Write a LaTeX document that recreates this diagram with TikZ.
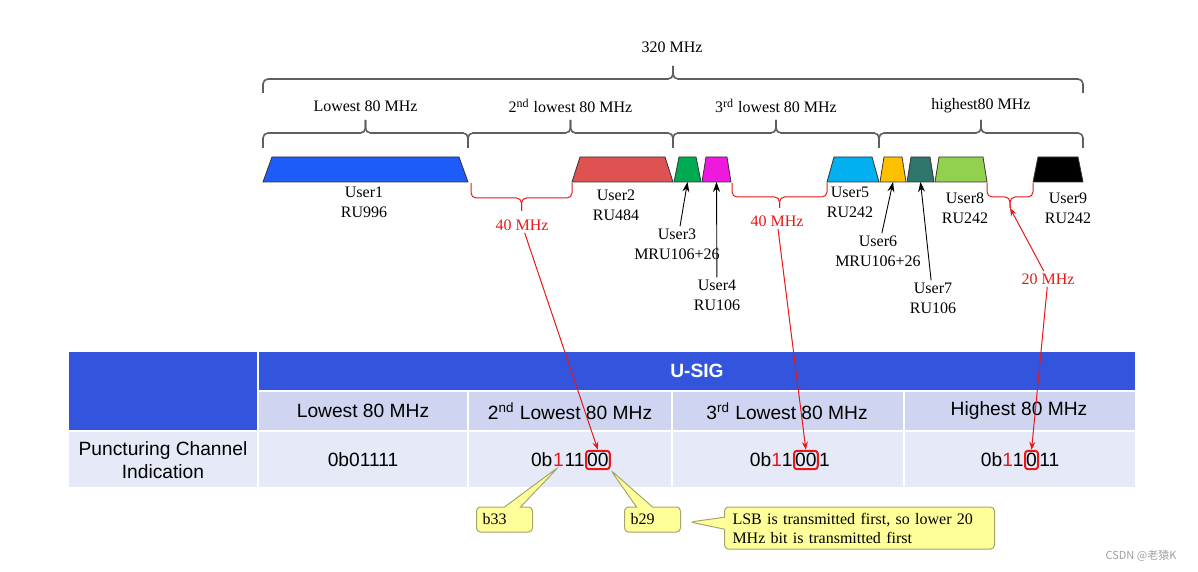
\documentclass[tikz,border=0pt]{standalone}
\usepackage{fontspec}
\setmainfont{Liberation Serif}
\newfontfamily\arialfont{Liberation Sans}
\newfontfamily\cjkfont{Noto Sans CJK SC}
\usetikzlibrary{arrows.meta,shapes.callouts}

\definecolor{bandblue}{RGB}{30,92,250}
\definecolor{bandred}{RGB}{222,82,82}
\definecolor{bandgreen}{RGB}{0,170,80}
\definecolor{bandmagenta}{RGB}{238,24,222}
\definecolor{bandcyan}{RGB}{0,176,240}
\definecolor{bandyellow}{RGB}{255,192,0}
\definecolor{bandteal}{RGB}{46,117,107}
\definecolor{bandlime}{RGB}{146,208,80}
\definecolor{braceGray}{RGB}{95,95,95}
\definecolor{markred}{RGB}{232,24,24}
\definecolor{headblue}{RGB}{51,85,221}
\definecolor{subrow}{RGB}{207,213,240}
\definecolor{datarow}{RGB}{230,233,247}
\definecolor{noteyellow}{RGB}{255,255,153}
\definecolor{noteedge}{RGB}{165,165,110}

% flat brace: left x, right x, y of the ends, y of the bar, y of the tip
\newcommand\bandbrace[6][]{%
  \draw[#1] (#2,#4) -- (#2,#5) -- ({(#2+#3)/2},#5) -- ({(#2+#3)/2},#6);
  \draw[#1] (#3,#4) -- (#3,#5) -- ({(#2+#3)/2},#5) -- ({(#2+#3)/2},#6);}

\begin{document}
\begin{tikzpicture}[x=0.5pt, y=-0.5pt, font=\fontsize{8}{10}\selectfont,
  band/.style={draw=black!80, line width=0.4pt},
  gbrace/.style={draw=braceGray, line width=0.8pt, rounded corners=2.5pt},
  rbrace/.style={draw=markred, line width=0.5pt, rounded corners=2.5pt},
  ulabel/.style={align=center, inner sep=1pt},
  uptr/.style={-{Stealth[length=5pt,width=3.5pt]}, line width=0.45pt},
  rptr/.style={-{Stealth[length=4pt,width=3pt]}, draw=markred, line width=0.5pt},
  rlabel/.style={text=markred, inner sep=1pt},
  tabtext/.style={font=\arialfont\fontsize{9.6}{11.5}\selectfont, align=center},
  digit/.style={tabtext, inner sep=0pt},
  digitbox/.style={digit, draw=markred, line width=1pt, rounded corners=1.5pt,
    inner xsep=0.6pt, inner ysep=1.2pt},
  note/.style={rectangle callout, fill=noteyellow, draw=noteedge, line width=0.5pt,
    rounded corners=2pt, align=left, inner xsep=3pt, inner ysep=2pt,
    callout pointer width=8pt}]
  \useasboundingbox (0,0) rectangle (1198,572);

  % Frequency braces over the 320 MHz channel
  \bandbrace[gbrace]{263}{1083}{93}{79}{66}
  \node (t320) at (672,47) {320 MHz};
  \foreach \l/\r/\txt/\n in {263/468/{Lowest 80 MHz}/s1,
      468/673/{2\textsuperscript{nd} lowest 80 MHz}/s2,
      673/879/{3\textsuperscript{rd} lowest 80 MHz}/s3,
      879/1083/{highest80 MHz}/s4} {
    \bandbrace[gbrace]{\l}{\r}{148}{133}{120}
    \node (\n) at ({(\l+\r)/2},106) {\txt};
  }

  % RU allocations (trapezoids), bottom-centre coordinates named b1..b9
  \foreach \l/\r/\i/\c/\n in {263/468/9/bandblue/b1, 572/673/8/bandred/b2,
      674/701/5/bandgreen/b3, 702/731/4/bandmagenta/b4, 827/879/7/bandcyan/b5,
      880/906/4/bandyellow/b6, 907/934/4/bandteal/b7, 935/987/4/bandlime/b8,
      1033/1083/5/black/b9} {
    \draw[band, fill=\c] (\l,182) -- (\l+\i,157) -- (\r-\i,157) -- (\r,182) -- cycle;
    \coordinate (\n) at ({(\l+\r)/2},182);
  }

  % User labels
  \node[ulabel] (u1) at (364,202) {User1\\RU996};
  \node[ulabel] (u2) at (616,205) {User2\\RU484};
  \node[ulabel] (u3) at (677,244) {User3\\MRU106+26};
  \node[ulabel] (u4) at (717,295) {User4\\RU106};
  \node[ulabel] (u5) at (850,202) {User5\\RU242};
  \node[ulabel] (u6) at (878,251) {User6\\MRU106+26};
  \node[ulabel] (u7) at (933,298) {User7\\RU106};
  \node[ulabel] (u8) at (965,208) {User8\\RU242};
  \node[ulabel] (u9) at (1068,208) {User9\\RU242};
  \draw[uptr] (u3) -- (b3);
  \draw[uptr] (u4) -- (b4);
  \draw[uptr] (u6) -- (b6);
  \draw[uptr] (u7) -- (b7);

  % Punctured gaps
  \bandbrace[rbrace]{471}{572}{183}{198}{211}
  \coordinate (g1) at (521.5,211);
  \bandbrace[rbrace]{732}{827}{183}{197}{208}
  \coordinate (g2) at (779.5,208);
  \bandbrace[rbrace]{987}{1033}{183}{197}{208}
  \coordinate (g3) at (1010,208);
  \node[rlabel] (w1) at (522,225) {40 MHz};
  \node[rlabel] (w2) at (777,221) {40 MHz};
  \node[rlabel] (w3) at (1048,279) {20 MHz};

  % U-SIG table
  \fill[headblue] (69,352) rectangle (257,430);
  \fill[headblue] (259,352) rectangle (1135,390);
  \fill[datarow] (69,432) rectangle (257,487);
  \foreach \l/\r in {259/467, 469/671, 673/903, 905/1135} {
    \fill[subrow] (\l,392) rectangle (\r,430);
    \fill[datarow] (\l,432) rectangle (\r,487);
  }
  \node[tabtext, text=white, font=\arialfont\bfseries\fontsize{9.6}{11.5}\selectfont]
    (usig) at (697,371) {U-SIG};
  \node[tabtext] (h1) at (363,411) {Lowest 80 MHz};
  \node[tabtext] (h2) at (570,411) {2\textsuperscript{nd} Lowest 80 MHz};
  \node[tabtext] (h3) at (787,411) {3\textsuperscript{rd} Lowest 80 MHz};
  \node[tabtext] (h4) at (1019,411) {Highest 80 MHz};
  \node[tabtext] (d0) at (163,460) {Puncturing Channel\\Indication};
  \node[tabtext] (v1) at (363,460) {0b01111};
  % 0b11100
  \node[digitbox, anchor=west] (v2box) at (585,460) {00};
  \node[digit, anchor=base east] (v2c) at (v2box.base west) {11};
  \node[digit, anchor=base east, text=markred] (v2msb) at (v2c.base west) {1};
  \node[digit, anchor=base east] (v2a) at (v2msb.base west) {0b};
  % 0b11001
  \node[digitbox, anchor=west] (v3box) at (793,460) {00};
  \node[digit, anchor=base east] (v3a) at (v3box.base west) {0b\textcolor{markred}{1}1};
  \node[digit, anchor=base west] (v3c) at (v3box.base east) {1};
  % 0b11011
  \node[digitbox, anchor=west] (v4box) at (1024,460) {0};
  \node[digit, anchor=base east] (v4a) at (v4box.base west) {0b\textcolor{markred}{1}1};
  \node[digit, anchor=base west] (v4c) at (v4box.base east) {11};

  % gaps mapped to the punctured bits
  \draw[rptr] (w1) -- (v2box.north);
  \draw[rptr] (w2) -- (v3box.north);
  \draw[rptr] (w3) -- (g3);
  \draw[rptr] (w3) -- (v4box.north);

  % Bit notes
  \node[note, text width=22pt, minimum height=12.5pt,
    callout absolute pointer={(v2msb.south)}] (n33) at (504.5,519.5) {b33};
  \node[note, text width=22pt, minimum height=12.5pt,
    callout absolute pointer={(v2box.south east)}] (n29) at (652.5,519.5) {b29};
  \coordinate (lsbtip) at (690,522);
  \node[note, text width=127pt, minimum height=21pt, inner xsep=4pt,
    callout pointer width=6pt, font=\fontsize{8}{9.5}\selectfont,
    callout absolute pointer={(lsbtip)}] (lsb) at (859.5,528)
    {LSB is transmitted first, so lower 20\\MHz bit is transmitted first};

  \node[text=gray!75, font=\cjkfont\fontsize{5.5}{6}\selectfont] (mark) at (1141,556)
    {CSDN @老猿K};
\end{tikzpicture}
\end{document}
